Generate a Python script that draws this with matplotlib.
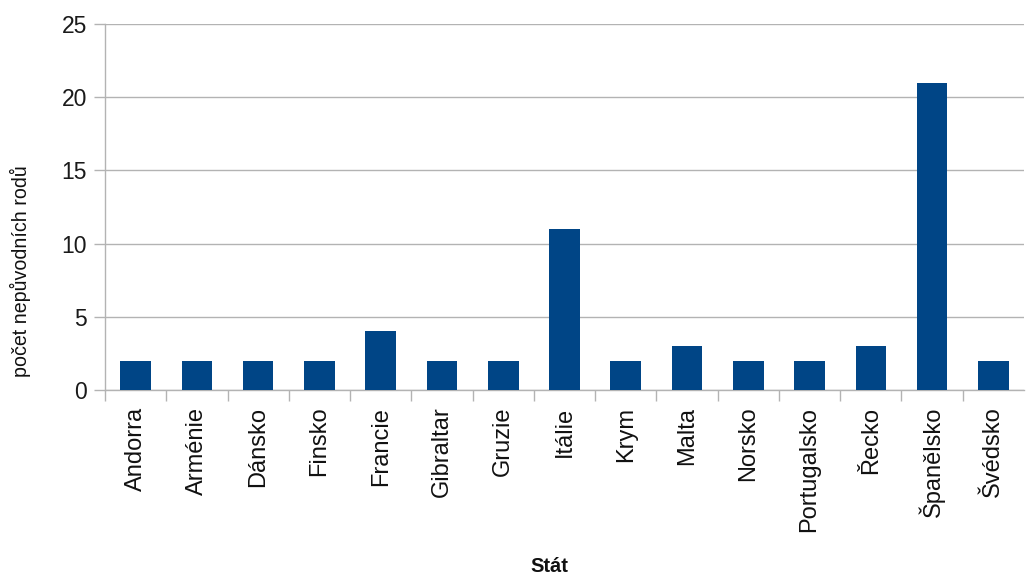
import matplotlib
matplotlib.use("Agg")
import matplotlib.pyplot as plt
import numpy as np

plt.rcParams['font.family'] = ['Liberation Sans', 'DejaVu Sans']

categories = ["Andorra", "Arménie", "Dánsko", "Finsko", "Francie", "Gibraltar",
              "Gruzie", "Itálie", "Krym", "Malta", "Norsko", "Portugalsko",
              "Řecko", "Španělsko", "Švédsko"]
values = [2, 2, 2, 2, 4, 2, 2, 11, 2, 3, 2, 2, 3, 21, 2]
y_ticks = [0, 5, 10, 15, 20, 25]

W, H = 1028, 577
fig = plt.figure(figsize=(W / 100, H / 100), dpi=100)
ax = fig.add_axes([105 / W, 1 - 390 / H, (1024 - 105) / W, (390 - 24) / H])

x = np.arange(len(categories))
ax.bar(x, values, width=0.5, color="#004586", zorder=3)

ax.set_xlim(-0.5, len(categories) - 0.5)
ax.set_ylim(0, 25)
ax.set_yticks(y_ticks)
ax.set_yticklabels([str(t) for t in y_ticks], fontsize=16.5, color="#1a1a1a")
ax.grid(axis="y", color="#b3b3b3", linewidth=1, zorder=0)

ax.set_xticks(x)
ax.set_xticklabels(categories, rotation=90, fontsize=17, color="#111111", va="top")
ax.tick_params(axis="x", which="major", length=0, pad=12)
ax.set_xticks(np.arange(-0.5, len(categories) - 0.5, 1.0), minor=True)
ax.tick_params(axis="x", which="minor", length=8, color="#b3b3b3", width=1)
ax.tick_params(axis="y", length=8, color="#b3b3b3", width=1, pad=5)

for s in ["top", "right"]:
    ax.spines[s].set_visible(False)
for s in ["left", "bottom"]:
    ax.spines[s].set_color("#b3b3b3")
    ax.spines[s].set_linewidth(1)

fig.text(20 / W, 1 - 271 / H, "počet nepůvodních rodů", rotation=90,
         ha="center", va="center", fontsize=14.1, color="#111111")
fig.text(549 / W, 1 - 566 / H, "Stát", ha="center", va="center",
         fontsize=14.5, fontweight="bold", color="#111111")

fig.savefig("out.png", dpi=100)
